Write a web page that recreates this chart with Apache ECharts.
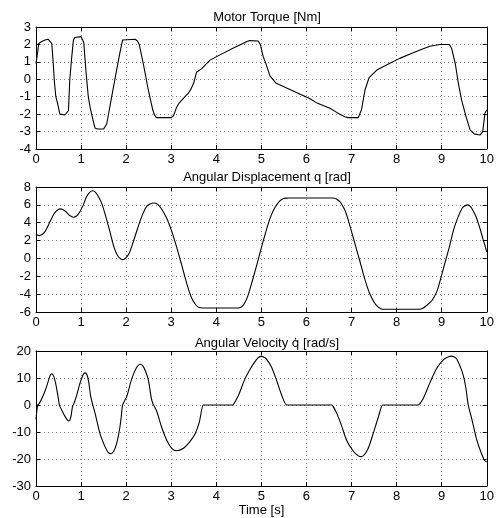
<!DOCTYPE html>
<html>
<head>
<meta charset="utf-8">
<script src="https://cdn.jsdelivr.net/npm/echarts@6/dist/echarts.min.js"></script>
<style>
  html, body { margin: 0; padding: 0; background: #fff; }
  #chart { width: 497px; height: 518px; }
</style>
</head>
<body>
<div id="chart"></div>
<script>
// Motor torque [Nm] samples (time in s)
const torqueT = [0, 0.04, 0.06, 0.12, 0.2, 0.27, 0.31, 0.35, 0.38, 0.41, 0.44, 0.48, 0.53, 0.57, 0.64, 0.68, 0.72, 0.75, 0.79, 0.83, 0.86, 0.9, 1.0, 1.03, 1.06, 1.11, 1.16, 1.2, 1.23, 1.27, 1.31, 1.36, 1.5, 1.53, 1.57, 1.64, 1.75, 1.86, 1.92, 1.96, 2.2, 2.25, 2.29, 2.38, 2.49, 2.59, 2.63, 2.67, 3.0, 3.05, 3.08, 3.12, 3.18, 3.27, 3.38, 3.44, 3.5, 3.56, 3.67, 3.86, 4.08, 4.38, 4.67, 4.74, 4.93, 4.98, 5.04, 5.1, 5.19, 5.33, 5.56, 5.85, 6.07, 6.22, 6.52, 6.67, 6.85, 6.92, 7.15, 7.22, 7.3, 7.39, 7.56, 7.85, 8.07, 8.3, 8.56, 8.74, 8.96, 9.17, 9.22, 9.3, 9.37, 9.44, 9.54, 9.63, 9.72, 9.85, 9.91, 9.96, 10];
const torqueV = [0.9, 1.6, 2.05, 2.15, 2.25, 2.3, 2.25, 2.05, 1.0, -0.2, -1.0, -1.4, -2.0, -2.05, -2.05, -1.95, -1.8, 0.0, 1.2, 2.25, 2.4, 2.45, 2.45, 2.35, 2.1, 0.4, -1.0, -1.6, -1.95, -2.4, -2.8, -2.85, -2.85, -2.75, -2.55, -1.55, 0.0, 1.5, 2.25, 2.3, 2.3, 2.2, 2.0, 0.9, -0.6, -1.75, -2.05, -2.2, -2.2, -2.1, -2.0, -1.6, -1.35, -1.1, -0.8, -0.55, -0.2, 0.4, 0.6, 1.1, 1.4, 1.8, 2.15, 2.22, 2.2, 1.97, 1.3, 0.9, 0.2, -0.23, -0.5, -0.84, -1.1, -1.34, -1.66, -1.9, -2.15, -2.2, -2.2, -1.75, -0.6, 0.1, 0.53, 0.92, 1.2, 1.45, 1.72, 1.9, 2.0, 2.0, 1.78, 0.92, -0.23, -1.18, -2.14, -2.9, -3.13, -3.2, -3.0, -1.95, -1.75];

// Angular displacement q [rad]
const dispT = [0, 0.07, 0.14, 0.2, 0.31, 0.4, 0.46, 0.53, 0.6, 0.67, 0.75, 0.83, 0.9, 0.97, 1.05, 1.12, 1.19, 1.26, 1.32, 1.4, 1.47, 1.57, 1.64, 1.71, 1.78, 1.85, 1.93, 2.0, 2.07, 2.16, 2.25, 2.31, 2.38, 2.45, 2.53, 2.62, 2.7, 2.78, 2.9, 3.0, 3.1, 3.23, 3.35, 3.45, 3.53, 3.6, 3.66, 3.72, 4.46, 4.52, 4.58, 4.63, 4.7, 4.8, 4.9, 5.0, 5.1, 5.2, 5.3, 5.4, 5.48, 5.54, 5.6, 6.56, 6.62, 6.67, 6.74, 6.8, 6.87, 7.0, 7.1, 7.19, 7.3, 7.4, 7.5, 7.58, 7.65, 7.72, 8.48, 8.54, 8.6, 8.67, 8.75, 8.8, 8.9, 9.0, 9.1, 9.17, 9.27, 9.36, 9.45, 9.5, 9.58, 9.65, 9.69, 9.76, 9.84, 9.92, 10];
const dispV = [2.7, 2.55, 2.7, 3.0, 4.1, 5.0, 5.35, 5.55, 5.45, 5.2, 4.8, 4.62, 4.75, 5.2, 6.0, 6.9, 7.4, 7.58, 7.4, 6.8, 6.0, 4.3, 3.0, 1.6, 0.6, 0.05, -0.15, 0.1, 0.6, 1.9, 3.3, 4.2, 5.1, 5.8, 6.1, 6.2, 6.05, 5.6, 4.5, 3.2, 1.6, -0.7, -2.9, -4.4, -5.1, -5.45, -5.53, -5.55, -5.55, -5.52, -5.35, -5.0, -4.2, -2.5, -0.7, 1.2, 3.0, 4.6, 5.7, 6.4, 6.68, 6.75, 6.76, 6.76, 6.73, 6.62, 6.35, 5.9, 5.2, 3.0, 1.2, -0.4, -2.4, -3.9, -4.9, -5.4, -5.63, -5.7, -5.7, -5.66, -5.52, -5.25, -4.9, -4.6, -3.6, -1.85, 0.0, 1.3, 3.3, 4.6, 5.6, 5.85, 6.0, 5.75, 5.4, 4.7, 3.5, 2.1, 0.74];

// Angular velocity q-dot [rad/s]
const velT = [0, 0.02, 0.04, 0.08, 0.16, 0.24, 0.31, 0.35, 0.39, 0.43, 0.46, 0.5, 0.52, 0.57, 0.64, 0.7, 0.73, 0.77, 0.81, 0.84, 0.9, 0.98, 1.05, 1.09, 1.13, 1.17, 1.21, 1.26, 1.31, 1.42, 1.53, 1.6, 1.66, 1.72, 1.79, 1.86, 1.9, 1.92, 2.01, 2.12, 2.23, 2.31, 2.37, 2.43, 2.49, 2.56, 2.6, 2.62, 2.68, 2.79, 2.9, 3.01, 3.12, 3.27, 3.41, 3.53, 3.62, 3.71, 3.72, 4.37, 4.38, 4.49, 4.63, 4.74, 4.85, 4.93, 5.0, 5.06, 5.11, 5.22, 5.33, 5.44, 5.56, 5.57, 6.57, 6.58, 6.67, 6.78, 6.89, 7.04, 7.15, 7.22, 7.28, 7.37, 7.48, 7.59, 7.69, 7.7, 8.49, 8.5, 8.59, 8.74, 8.89, 9.04, 9.15, 9.22, 9.28, 9.33, 9.44, 9.5, 9.54, 9.59, 9.67, 9.78, 9.89, 9.96, 10];
const velV = [-5.3, -2, 0, 0.8, 3.5, 7.1, 10.8, 11.6, 10.8, 8.5, 5.9, 2, 0, -1.8, -4.1, -5.6, -5.9, -4.7, -0.6, 0.5, 3.5, 8.3, 11.4, 11.9, 11.2, 8.5, 3.5, 0, -3, -10.6, -15.4, -17.5, -18, -17.2, -14.2, -8.3, -3, 0, 3, 9.5, 13.9, 15.1, 14.5, 12.5, 9.5, 2.4, 0.2, -0.3, -2.4, -8.3, -13, -16, -16.9, -16, -13.6, -10.6, -6.5, 0, 0, 0, 0, 3.5, 9.5, 13, 15.9, 17.5, 18, 17.7, 17.1, 14.2, 9.5, 4.1, 0, 0, 0, 0, -3, -7.7, -13, -17.1, -18.8, -19.1, -18.5, -16, -10.6, -4.7, 0, 0, 0, 0, 2.4, 8.3, 13.6, 16.8, 17.9, 18.1, 17.8, 17.1, 13, 9.5, 5.9, 0, -5.3, -13, -18.3, -20.7, -21];

// Axis ranges and subplot titles
const xTicks = { min: 0, max: 10, interval: 1 };
const yRanges = [
  { min: -4, max: 3, interval: 1 },
  { min: -6, max: 8, interval: 2 },
  { min: -30, max: 20, interval: 10 }
];
const titles = [
  'Motor Torque [Nm]',
  'Angular Displacement q [rad]',
  'Angular Velocity {dq|q\u0307} [rad/s]'
];

const FONT = 'Liberation Sans, Arial, Helvetica, sans-serif';
const grids = [
  { left: 36, right: 10, top: 27, height: 122 },
  { left: 36, right: 10, top: 187, height: 125 },
  { left: 36, right: 10, top: 351, height: 140 }
];
const titleTops = [6, 166, 332];

const gridLine = { show: true, lineStyle: { color: '#8a8a8a', type: [1, 3], width: 1 } };
const blackLine = { show: true, onZero: false, lineStyle: { color: '#000', width: 1 } };
const inTick = { show: true, inside: true, length: 4, lineStyle: { color: '#000' } };
const labelStyle = { color: '#000', fontFamily: FONT, fontSize: 13 };

const xAxes = [], yAxes = [], series = [];
const pairs = [[torqueT, torqueV], [dispT, dispV], [velT, velV]];

grids.forEach((g, i) => {
  // bottom axis with labels
  xAxes.push(Object.assign({
    type: 'value', gridIndex: i, position: 'bottom',
    axisLine: blackLine, axisTick: inTick, splitLine: gridLine,
    axisLabel: Object.assign({ margin: 4 }, labelStyle)
  }, xTicks, i === 2 ? {
    name: 'Time [s]', nameLocation: 'middle', nameGap: 9,
    nameTextStyle: { color: '#000', fontFamily: FONT, fontSize: 13, verticalAlign: 'top' }
  } : {}));
  // top edge carrying inward ticks only
  xAxes.push(Object.assign({
    type: 'value', gridIndex: i, position: 'top',
    axisLine: blackLine, axisTick: inTick, splitLine: { show: false },
    axisLabel: { show: false }
  }, xTicks));
  yAxes.push(Object.assign({
    type: 'value', gridIndex: i, position: 'left',
    axisLine: blackLine, axisTick: inTick, splitLine: gridLine,
    axisLabel: Object.assign({ margin: 5 }, labelStyle)
  }, yRanges[i]));
  yAxes.push(Object.assign({
    type: 'value', gridIndex: i, position: 'right',
    axisLine: blackLine, axisTick: inTick, splitLine: { show: false },
    axisLabel: { show: false }
  }, yRanges[i]));

  const [ts, vs] = pairs[i];
  series.push({
    type: 'line', xAxisIndex: i * 2, yAxisIndex: i * 2,
    data: ts.map((t, k) => [t, vs[k]]),
    showSymbol: false, smooth: i === 0 ? false : 0.3,
    lineStyle: { color: '#000', width: 1.1 },
    animation: false
  });
});

const chart = echarts.init(document.getElementById('chart'));
chart.setOption({
  backgroundColor: '#fff',
  animation: false,
  title: titles.map((t, i) => ({
    text: t, left: 262, top: titleTops[i], textAlign: 'center',
    textStyle: {
      color: '#000', fontFamily: FONT, fontSize: 13, fontWeight: 'normal',
      rich: { dq: { color: '#000', fontFamily: 'DejaVu Sans', fontSize: 12 } }
    }
  })),
  grid: grids,
  xAxis: xAxes,
  yAxis: yAxes,
  series: series
});
</script>
</body>
</html>
